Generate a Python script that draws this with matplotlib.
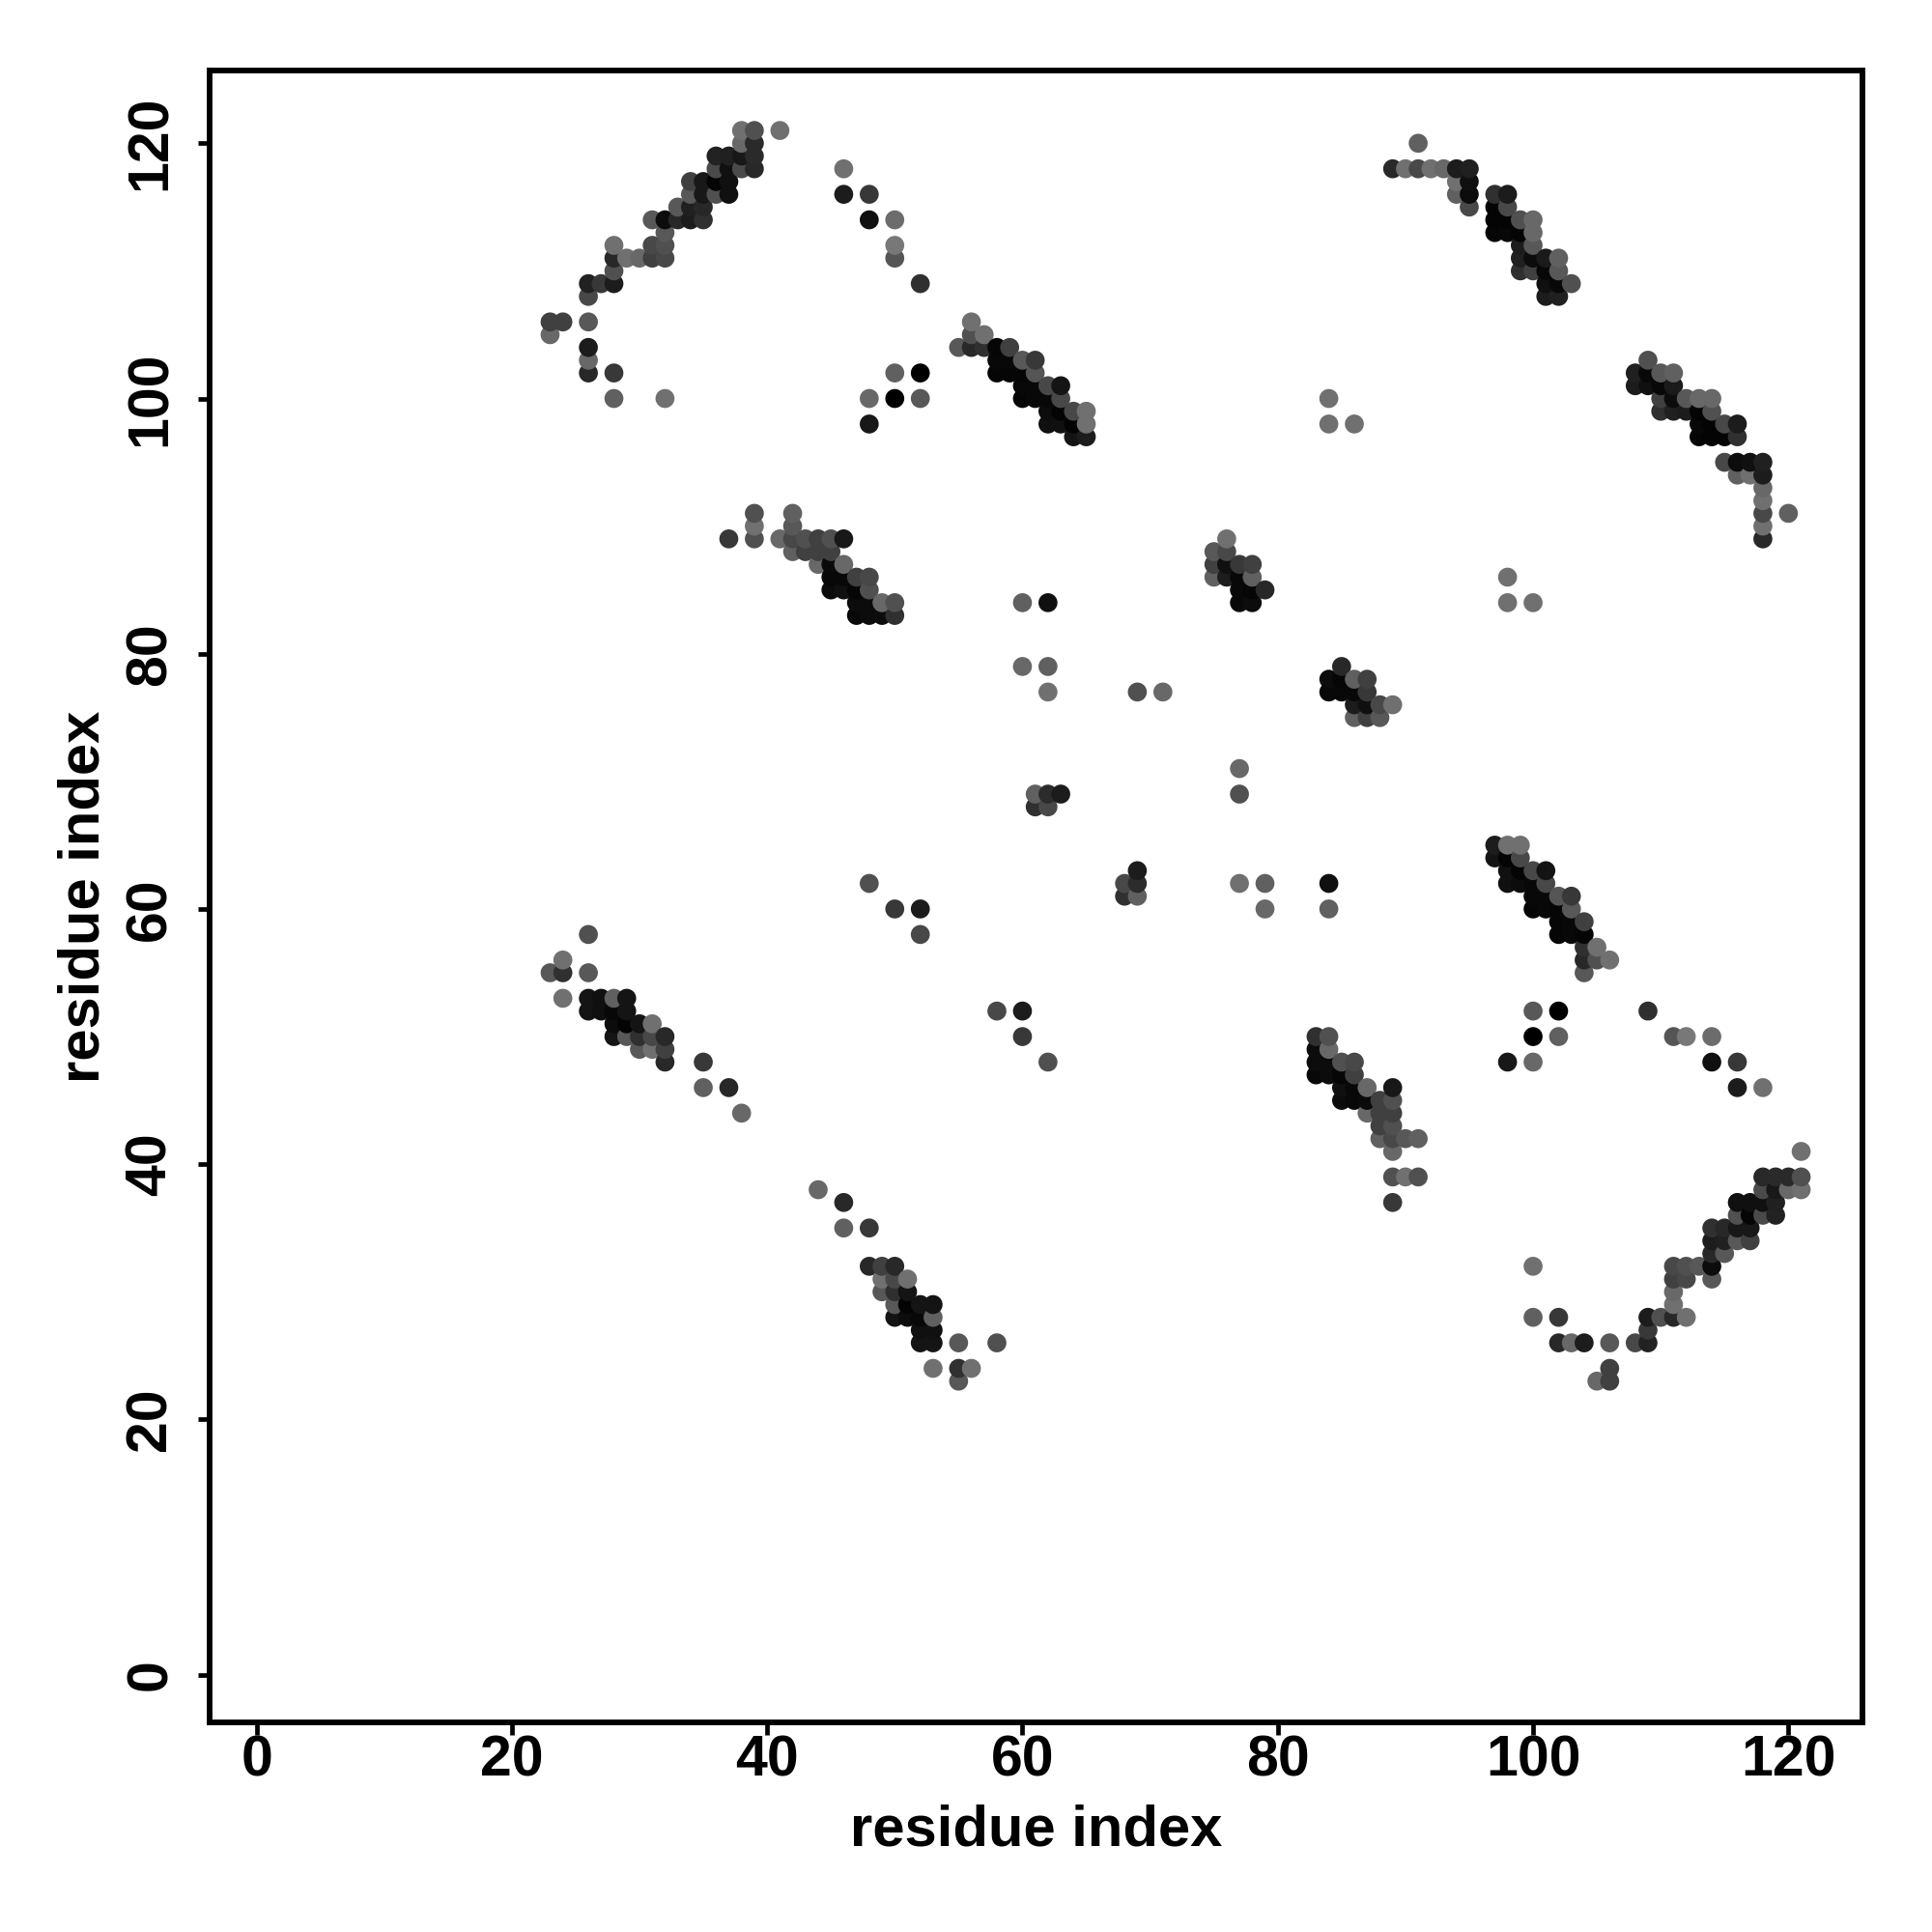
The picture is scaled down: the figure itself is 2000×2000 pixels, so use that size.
import numpy as np
import matplotlib
matplotlib.use('Agg')
import matplotlib.pyplot as plt

# contact map, only the y > x half is listed, the other half is its mirror
# one source line per row of the map, shade is grey level 0-255

contact_x = [
    38, 39, 41,
    38, 39,
    36, 37, 38, 39,
    36, 37, 38, 39, 46,
    34, 35, 36, 37,
    34, 35, 36, 37, 46, 48,
    33, 34, 35,
    31, 32, 33, 34, 35, 48, 50,
    32,
    28, 31, 32, 50,
    28, 29, 30, 31, 32, 50,
    28,
    26, 27, 28, 52,
    26,
    23, 24, 26,
    23,
    26,
    26,
    26, 28, 50, 52,
    28, 32, 48, 50, 52,
    48,
    # 55-65 / 97-106
    56,
    56, 57,
    55, 56, 57, 58, 59,
    58, 59, 60, 61,
    58, 59, 60, 61,
    60, 61, 62, 63,
    60, 61, 62, 63,
    62, 63, 64, 65,
    62, 63, 64, 65,
    64, 65,
    # 89-103 / 108-120
    91,
    89, 90, 91, 92, 93, 94, 95,
    94, 95,
    94, 95, 97, 98,
    95, 97, 98,
    97, 98, 99, 100,
    97, 98, 99, 100,
    99, 100,
    99, 100, 101, 102,
    99, 100, 101, 102,
    101, 102, 103,
    101, 102,
    # 37-50 / 83-91
    39, 42,
    39, 42,
    37, 39, 41, 42, 43, 44, 45, 46,
    42, 43, 44, 45,
    44, 45, 46,
    45, 46, 47, 48,
    45, 46, 47, 48,
    47, 48, 49, 50,
    47, 48, 49, 50,
    # 75-79 / 84-89
    76,
    75, 76,
    75, 76, 77, 78,
    75, 76, 77, 78,
    77, 78, 79,
    77, 78,
    # 23-38 / 44-58
    26,
    24,
    23, 24, 26,
    24, 26, 27, 28, 29,
    26, 27, 28, 29,
    28, 29, 30, 31,
    28, 29, 30, 31, 32,
    30, 31, 32,
    32, 35,
    35, 37,
    38,
    # loose contacts
    60, 62, 60, 62, 62, 69, 71,
    61, 62, 63, 61, 62,
    48, 50, 52, 52,
    84, 84, 86,
]

contact_y = [
    121, 121, 121,
    120, 120,
    119, 119, 119, 119,
    118, 118, 118, 118, 118,
    117, 117, 117, 117,
    116, 116, 116, 116, 116, 116,
    115, 115, 115,
    114, 114, 114, 114, 114, 114, 114,
    113,
    112, 112, 112, 112,
    111, 111, 111, 111, 111, 111,
    110,
    109, 109, 109, 109,
    108,
    106, 106, 106,
    105,
    104,
    103,
    102, 102, 102, 102,
    100, 100, 100, 100, 100,
    98,
    106,
    105, 105,
    104, 104, 104, 104, 104,
    103, 103, 103, 103,
    102, 102, 102, 102,
    101, 101, 101, 101,
    100, 100, 100, 100,
    99, 99, 99, 99,
    98, 98, 98, 98,
    97, 97,
    120,
    118, 118, 118, 118, 118, 118, 118,
    117, 117,
    116, 116, 116, 116,
    115, 115, 115,
    114, 114, 114, 114,
    113, 113, 113, 113,
    112, 112,
    111, 111, 111, 111,
    110, 110, 110, 110,
    109, 109, 109,
    108, 108,
    91, 91,
    90, 90,
    89, 89, 89, 89, 89, 89, 89, 89,
    88, 88, 88, 88,
    87, 87, 87,
    86, 86, 86, 86,
    85, 85, 85, 85,
    84, 84, 84, 84,
    83, 83, 83, 83,
    89,
    88, 88,
    87, 87, 87, 87,
    86, 86, 86, 86,
    85, 85, 85,
    84, 84,
    58,
    56,
    55, 55, 55,
    53, 53, 53, 53, 53,
    52, 52, 52, 52,
    51, 51, 51, 51,
    50, 50, 50, 50, 50,
    49, 49, 49,
    48, 48,
    46, 46,
    44,
    84, 84, 79, 79, 77, 77, 77,
    69, 69, 69, 68, 68,
    62, 60, 60, 58,
    100, 98, 98,
]

contact_shade = [
    0x70, 0x50, 0x70,
    0x68, 0x2a,
    0x22, 0x20, 0x18, 0x2a,
    0x4a, 0x10, 0x4a, 0x28, 0x70,
    0x40, 0x18, 0x05, 0x10,
    0x58, 0x18, 0x50, 0x10, 0x1c, 0x38,
    0x58, 0x20, 0x28,
    0x58, 0x0c, 0x28, 0x1c, 0x30, 0x10, 0x6c,
    0x58,
    0x70, 0x48, 0x50, 0x78,
    0x28, 0x70, 0x68, 0x40, 0x48, 0x55,
    0x50,
    0x22, 0x38, 0x1c, 0x30,
    0x48,
    0x40, 0x40, 0x58,
    0x68,
    0x1c,
    0x68,
    0x28, 0x38, 0x60, 0x00,
    0x60, 0x70, 0x68, 0x00, 0x58,
    0x18,
    0x70,
    0x50, 0x70,
    0x58, 0x28, 0x30, 0x06, 0x40,
    0x08, 0x08, 0x58, 0x38,
    0x06, 0x06, 0x06, 0x55,
    0x08, 0x08, 0x48, 0x14,
    0x06, 0x08, 0x08, 0x48,
    0x0c, 0x04, 0x48, 0x70,
    0x10, 0x10, 0x04, 0x70,
    0x14, 0x1c,
    0x60,
    0x28, 0x70, 0x48, 0x70, 0x68, 0x1c, 0x20,
    0x70, 0x10,
    0x60, 0x0c, 0x30, 0x1c,
    0x48, 0x04, 0x48,
    0x04, 0x04, 0x50, 0x68,
    0x06, 0x08, 0x04, 0x68,
    0x1c, 0x58,
    0x20, 0x0c, 0x1a, 0x60,
    0x30, 0x40, 0x08, 0x58,
    0x10, 0x08, 0x50,
    0x1c, 0x20,
    0x50, 0x60,
    0x70, 0x58,
    0x38, 0x50, 0x68, 0x48, 0x50, 0x40, 0x50, 0x18,
    0x60, 0x40, 0x40, 0x40,
    0x68, 0x0a, 0x68,
    0x08, 0x08, 0x40, 0x48,
    0x0c, 0x10, 0x06, 0x50,
    0x0c, 0x0c, 0x68, 0x50,
    0x08, 0x0c, 0x0c, 0x30,
    0x70,
    0x58, 0x48,
    0x40, 0x10, 0x38, 0x40,
    0x60, 0x1c, 0x08, 0x60,
    0x08, 0x06, 0x28,
    0x08, 0x0c,
    0x50,
    0x70,
    0x58, 0x30, 0x58,
    0x70, 0x14, 0x10, 0x60, 0x14,
    0x14, 0x10, 0x08, 0x14,
    0x0c, 0x04, 0x14, 0x70,
    0x14, 0x58, 0x30, 0x48, 0x28,
    0x58, 0x70, 0x40,
    0x28, 0x38,
    0x60, 0x28,
    0x68,
    0x60, 0x10, 0x68, 0x60, 0x70, 0x50, 0x68,
    0x60, 0x2c, 0x1c, 0x30, 0x48,
    0x50, 0x38, 0x1c, 0x48,
    0x70, 0x70, 0x70,
]

tick_values = [0, 20, 40, 60, 80, 100, 120]

plt.rcParams['font.family'] = ['Liberation Sans', 'DejaVu Sans']
plt.rcParams['font.weight'] = 'bold'

x = np.array(contact_x + contact_y)
y = np.array(contact_y + contact_x)
shade = np.array(contact_shade + contact_shade) / 255

# draw column by column so overlaps stack the same way as the original
order = np.lexsort((y, x))

fig = plt.figure(figsize=(20, 20), dpi=100)
ax = fig.add_axes([217 / 2000, 1 - 1783 / 2000, (1928 - 217) / 2000, (1783 - 73) / 2000])

ax.scatter(x[order], y[order], c=shade[order], cmap='gray', vmin=0, vmax=1, s=200, linewidths=0)

ax.set_xlim(-3.67, 125.8)
ax.set_ylim(-3.74, 125.7)
ax.set_xticks(tick_values)
ax.set_yticks(tick_values)
ax.tick_params(axis='x', length=9, width=3.4, labelsize=42.5, pad=0)
ax.tick_params(axis='y', length=9, width=3.4, labelsize=42.5, pad=15)
plt.setp(ax.get_yticklabels(), rotation=90, va='center')

for spine in ax.spines.values():
    spine.set_linewidth(4.2)

ax.set_xlabel('residue index', fontsize=43, fontweight='bold', labelpad=12)
ax.set_ylabel('residue index', fontsize=43, fontweight='bold', labelpad=10)

fig.savefig('out.png', dpi=100)
